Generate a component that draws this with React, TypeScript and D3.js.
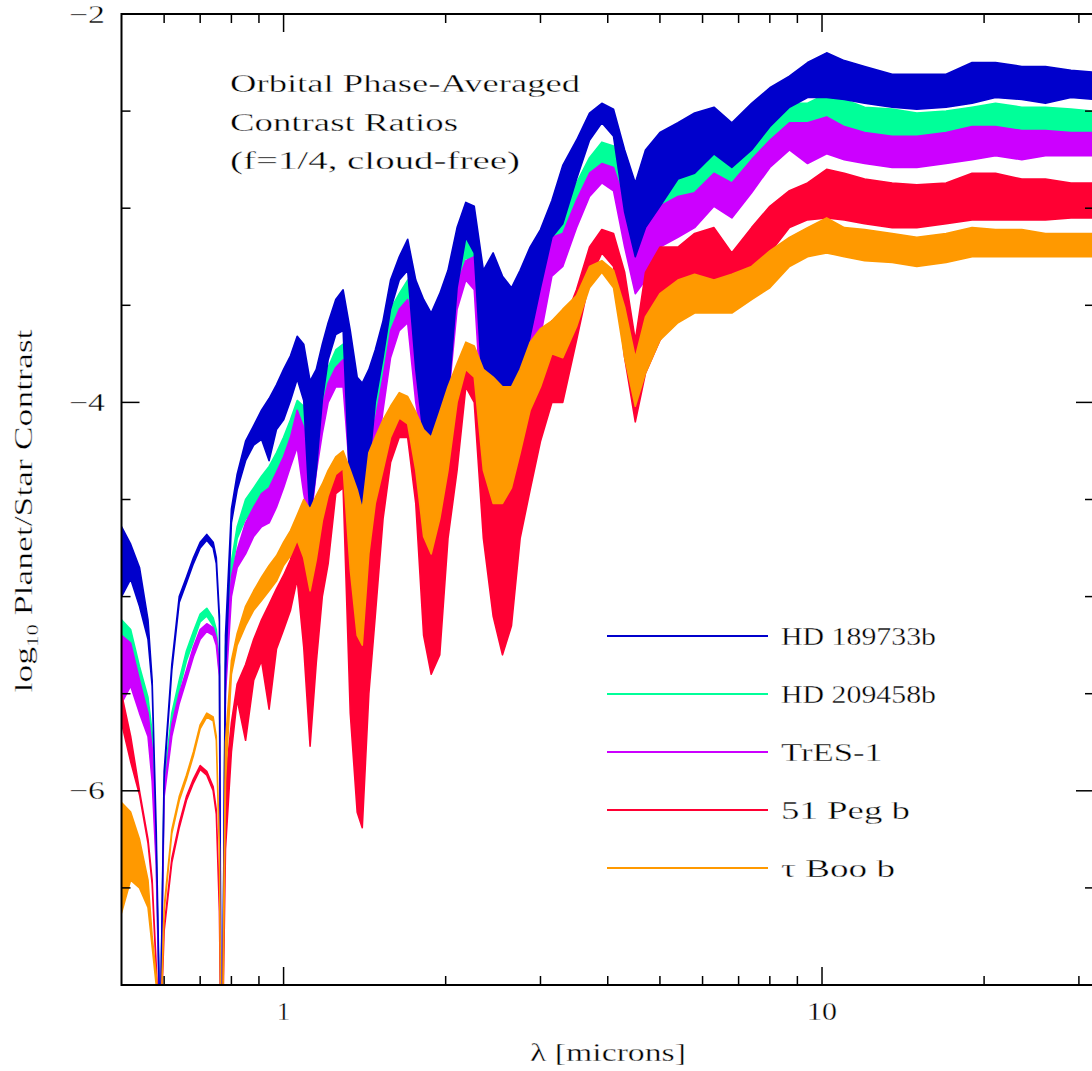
import * as d3 from 'd3';

// wavelength grid (microns) shared by all spectra
const wavelengths = [
  0.50, 0.52, 0.54, 0.56, 0.57, 0.58, 0.59, 0.60, 0.62, 0.64,
  0.66, 0.68, 0.70, 0.72, 0.74, 0.75, 0.76, 0.765, 0.77, 0.78,
  0.80, 0.82, 0.85, 0.88, 0.91, 0.94, 0.97, 1.00, 1.03, 1.06,
  1.09, 1.12, 1.15, 1.18, 1.21, 1.25, 1.29, 1.33, 1.37, 1.40,
  1.44, 1.48, 1.53, 1.58, 1.64, 1.70, 1.76, 1.82, 1.88, 1.95,
  2.02, 2.10, 2.18, 2.26, 2.35, 2.45, 2.55, 2.65, 2.75, 2.87,
  3.0, 3.15, 3.3, 3.5, 3.7, 3.9, 4.1, 4.3, 4.5, 4.7,
  5.0, 5.4, 5.8, 6.3, 6.8, 7.4, 8.0, 8.7, 9.4, 10.2,
  11, 12, 13.5, 15, 17, 19, 21, 23.5, 26, 29, 32,
];

// upper / lower envelope of each noisy spectrum, log10 contrast
const hd189733Hi = [
  -4.64, -4.73, -4.85, -5.12, -5.43, -6.2, -7.3, -5.9, -5.35, -5.0,
  -4.9, -4.8, -4.72, -4.68, -4.72, -4.8, -5.1, -7.3, -7.3, -5.2,
  -4.55, -4.37, -4.2, -4.12, -4.04, -3.98, -3.91, -3.83, -3.76, -3.66,
  -3.7, -3.89, -3.83, -3.7, -3.59, -3.47, -3.42, -3.63, -3.87, -3.9,
  -3.83, -3.73, -3.58, -3.37, -3.25, -3.16, -3.37, -3.47, -3.54, -3.44,
  -3.32, -3.1, -2.97, -2.99, -3.32, -3.23, -3.35, -3.41, -3.32, -3.2,
  -3.11, -2.96, -2.78, -2.65, -2.51, -2.46, -2.49, -2.7, -2.87, -2.7,
  -2.61, -2.56, -2.51, -2.48, -2.56, -2.46, -2.38, -2.32, -2.25, -2.2,
  -2.24, -2.27, -2.31, -2.31, -2.31, -2.25, -2.25, -2.27, -2.27, -2.29, -2.3,
];
const hd189733Lo = [
  -5.0, -4.91, -5.05, -5.22, -5.46, -6.23, -7.3, -5.93, -5.38, -5.03,
  -4.93, -4.83, -4.75, -4.71, -4.75, -4.83, -5.13, -7.3, -7.3, -5.4,
  -4.62, -4.45, -4.3, -4.22, -4.19, -4.3, -4.14, -4.09, -3.99, -3.88,
  -3.99, -4.6, -4.35, -3.99, -3.78, -3.65, -3.63, -4.5, -4.6, -4.52,
  -4.35, -4.0, -3.77, -3.52, -3.37, -3.32, -3.83, -4.18, -4.35, -4.18,
  -4.0, -3.41, -3.15, -3.23, -4.0, -4.09, -4.18, -4.09, -3.92, -3.66,
  -3.41, -3.15, -3.08, -2.85, -2.65, -2.56, -2.63, -3.02, -3.25, -3.1,
  -2.99, -2.85, -2.82, -2.72, -2.79, -2.7, -2.58, -2.48, -2.43, -2.43,
  -2.44, -2.46, -2.48, -2.49, -2.48, -2.46, -2.43, -2.44, -2.46, -2.43, -2.44,
];

const hd209458Hi = [
  -5.12, -5.17, -5.36, -5.52, -5.7, -6.3, -7.3, -5.95, -5.6, -5.43,
  -5.28, -5.18, -5.09, -5.06, -5.11, -5.17, -5.35, -7.3, -7.3, -5.26,
  -4.82, -4.64, -4.5, -4.44, -4.38, -4.33, -4.26, -4.18, -4.09, -3.99,
  -4.02, -4.16, -4.02, -3.95, -3.82, -3.73, -3.7, -3.83, -4.1, -4.15,
  -4.05, -3.98, -3.77, -3.52, -3.44, -3.37, -3.55, -3.7, -3.8, -3.65,
  -3.56, -3.28, -3.15, -3.18, -3.5, -3.5, -3.55, -3.55, -3.5, -3.35,
  -3.2, -3.05, -3.02, -2.87, -2.74, -2.66, -2.68, -2.86, -3.1, -2.92,
  -2.89, -2.84, -2.8, -2.7, -2.79, -2.65, -2.55, -2.46, -2.46, -2.41,
  -2.44, -2.48, -2.49, -2.51, -2.5, -2.48, -2.46, -2.48, -2.48, -2.49, -2.5,
];
const hd209458Lo = [
  -5.35, -5.29, -5.46, -5.64, -5.86, -6.33, -7.3, -5.98, -5.65, -5.48,
  -5.33, -5.23, -5.13, -5.1, -5.15, -5.21, -5.4, -7.3, -7.3, -5.4,
  -4.9, -4.7, -4.6, -4.57, -4.54, -4.5, -4.44, -4.33, -4.25, -4.13,
  -4.23, -4.45, -4.23, -4.08, -3.92, -3.83, -3.8, -4.3, -4.4, -4.4,
  -4.3, -4.15, -3.9, -3.65, -3.54, -3.49, -3.9, -4.15, -4.2, -4.15,
  -3.83, -3.39, -3.25, -3.32, -3.95, -4.0, -4.05, -4.0, -3.9, -3.7,
  -3.5, -3.15, -3.13, -2.99, -2.84, -2.77, -2.8, -3.1, -3.34, -3.2,
  -3.05, -2.96, -2.92, -2.82, -2.92, -2.79, -2.66, -2.58, -2.61, -2.6,
  -2.61, -2.65, -2.66, -2.66, -2.65, -2.63, -2.61, -2.63, -2.61, -2.61, -2.62,
];

const tres1Hi = [
  -5.2, -5.24, -5.43, -5.6, -5.78, -6.35, -7.3, -6.0, -5.66, -5.5,
  -5.38, -5.26, -5.17, -5.14, -5.16, -5.21, -5.36, -7.3, -7.3, -5.35,
  -4.9, -4.76, -4.62, -4.54, -4.47, -4.44, -4.36, -4.28, -4.18, -4.04,
  -4.13, -4.3, -4.13, -4.02, -3.9, -3.82, -3.78, -3.85, -4.2, -4.2,
  -4.1, -4.09, -3.87, -3.63, -3.52, -3.47, -3.66, -3.75, -3.85, -3.8,
  -3.63, -3.39, -3.27, -3.25, -3.5, -3.55, -3.6, -3.6, -3.6, -3.5,
  -3.32, -3.15, -3.13, -2.96, -2.82, -2.77, -2.79, -2.96, -3.2, -3.06,
  -2.99, -2.94, -2.92, -2.82, -2.87, -2.75, -2.65, -2.56, -2.56, -2.53,
  -2.58, -2.61, -2.63, -2.63, -2.61, -2.58, -2.58, -2.6, -2.6, -2.61, -2.61,
];
const tres1Lo = [
  -5.55, -5.46, -5.6, -5.72, -5.95, -6.38, -7.3, -6.03, -5.72, -5.55,
  -5.43, -5.31, -5.22, -5.18, -5.2, -5.25, -5.41, -7.3, -7.3, -5.5,
  -5.0, -4.85, -4.78, -4.69, -4.64, -4.62, -4.54, -4.44, -4.33, -4.23,
  -4.47, -4.64, -4.36, -4.16, -4.0, -3.92, -3.92, -4.4, -4.45, -4.45,
  -4.4, -4.35, -4.04, -3.77, -3.63, -3.59, -4.0, -4.25, -4.3, -4.25,
  -4.0, -3.52, -3.37, -3.42, -4.2, -4.2, -4.25, -4.2, -4.0, -3.83,
  -3.66, -3.35, -3.3, -3.1, -2.94, -2.87, -2.91, -3.2, -3.44, -3.37,
  -3.2, -3.15, -3.1, -2.99, -3.05, -2.92, -2.79, -2.7, -2.77, -2.72,
  -2.75, -2.77, -2.79, -2.79, -2.77, -2.75, -2.73, -2.75, -2.73, -2.73, -2.73,
];

const peg51Hi = [
  -5.5, -5.72, -6.0, -6.25, -6.46, -6.9, -7.3, -6.7, -6.35, -6.17,
  -6.03, -5.94, -5.87, -5.9, -5.98, -6.1, -6.6, -7.3, -7.3, -5.95,
  -5.65, -5.45, -5.35, -5.22, -5.12, -5.04, -4.96, -4.89, -4.81, -4.68,
  -4.66, -4.75, -4.66, -4.5, -4.4, -4.33, -4.26, -4.5, -4.6, -4.7,
  -4.55, -4.45, -4.26, -4.11, -4.0, -4.0, -4.21, -4.4, -4.5, -4.45,
  -4.15, -3.87, -3.72, -3.73, -4.18, -4.18, -4.3, -4.2, -4.09, -3.92,
  -3.75, -3.58, -3.6, -3.42, -3.2, -3.11, -3.13, -3.33, -3.68, -3.33,
  -3.2, -3.2, -3.13, -3.1, -3.23, -3.1, -2.99, -2.91, -2.87, -2.8,
  -2.82, -2.85, -2.87, -2.88, -2.87, -2.82, -2.82, -2.85, -2.85, -2.87, -2.87,
];
const peg51Lo = [
  -5.65, -5.85, -6.02, -6.27, -6.48, -6.92, -7.3, -6.72, -6.37, -6.19,
  -6.05, -5.96, -5.89, -5.92, -6.0, -6.12, -6.62, -7.3, -7.3, -6.3,
  -5.8, -5.53, -5.74, -5.43, -5.33, -5.58, -5.27, -5.17, -5.07, -4.91,
  -5.26, -5.77, -5.34, -5.0, -4.83, -4.47, -4.44, -5.6, -6.11, -6.19,
  -5.5, -5.1, -4.6, -4.31, -4.18, -4.18, -4.52, -5.2, -5.4, -5.3,
  -4.7, -4.35, -3.92, -4.0, -4.7, -5.1, -5.3, -5.15, -4.7, -4.45,
  -4.2, -4.0, -4.0, -3.68, -3.37, -3.23, -3.3, -3.77, -4.1, -3.85,
  -3.68, -3.51, -3.44, -3.37, -3.42, -3.33, -3.23, -3.1, -3.06, -3.05,
  -3.06, -3.08, -3.1, -3.1, -3.08, -3.06, -3.06, -3.06, -3.06, -3.05, -3.05,
];

const tauBooHi = [
  -6.06, -6.11, -6.25, -6.46, -6.75, -6.95, -7.3, -6.6, -6.2, -6.03,
  -5.92, -5.8, -5.66, -5.6, -5.62, -5.72, -6.3, -7.3, -7.3, -5.75,
  -5.33, -5.19, -5.05, -4.97, -4.9, -4.84, -4.79, -4.72, -4.66, -4.58,
  -4.5, -4.55, -4.48, -4.42, -4.35, -4.28, -4.25, -4.35, -4.45, -4.55,
  -4.26, -4.18, -4.09, -4.02, -3.95, -3.97, -4.05, -4.14, -4.18, -4.05,
  -3.92, -3.8, -3.69, -3.71, -3.83, -3.87, -3.92, -3.92, -3.83, -3.69,
  -3.62, -3.58, -3.52, -3.45, -3.3, -3.27, -3.32, -3.51, -3.77, -3.56,
  -3.44, -3.37, -3.34, -3.37, -3.34, -3.3, -3.22, -3.15, -3.1, -3.05,
  -3.1, -3.11, -3.13, -3.15, -3.13, -3.1, -3.11, -3.11, -3.13, -3.13, -3.13,
];
const tauBooLo = [
  -6.63, -6.46, -6.5, -6.6, -6.8, -7.0, -7.3, -6.62, -6.22, -6.05,
  -5.94, -5.82, -5.68, -5.62, -5.64, -5.74, -6.32, -7.3, -7.3, -5.95,
  -5.4, -5.25, -5.15, -5.07, -5.02, -4.97, -4.92, -4.84, -4.79, -4.71,
  -4.8, -4.97, -4.81, -4.61, -4.48, -4.37, -4.34, -4.86, -5.2, -5.25,
  -4.78, -4.52, -4.35, -4.18, -4.08, -4.11, -4.35, -4.69, -4.78, -4.6,
  -4.35, -4.0, -3.83, -3.87, -4.35, -4.52, -4.52, -4.44, -4.26, -4.04,
  -3.92, -3.75, -3.77, -3.61, -3.41, -3.33, -3.41, -3.77, -4.02, -3.85,
  -3.68, -3.59, -3.54, -3.54, -3.54, -3.47, -3.41, -3.3, -3.25, -3.23,
  -3.25, -3.27, -3.28, -3.3, -3.28, -3.25, -3.25, -3.25, -3.25, -3.25, -3.25,
];

const planetNames = ['HD 189733b', 'HD 209458b', 'TrES-1', '51 Peg b', '\u03c4 Boo b'];
const planetColors = ['#0000cc', '#00ff99', '#cc00ff', '#ff0033', '#ff9900'];
const highs = [hd189733Hi, hd209458Hi, tres1Hi, peg51Hi, tauBooHi];
const lows = [hd189733Lo, hd209458Lo, tres1Lo, peg51Lo, tauBooLo];
// painting order seen in the figure: green, violet, blue, red, orange on top
const drawOrder = [1, 2, 0, 3, 4];

const xMajorTicks = [1, 10];
const xMinorTicks = [0.6, 0.7, 0.8, 0.9, 2, 3, 4, 5, 6, 7, 8, 9, 20, 30];
const yMajorTicks = [-6, -4, -2];
const yMinorTicks = [-6.5, -5.5, -5, -4.5, -3.5, -3, -2.5];
const noteLines = ['Orbital Phase-Averaged', 'Contrast Ratios', '(f=1/4, cloud-free)'];

const FONT = "'Liberation Serif', 'DejaVu Serif', serif";
// thin the stretched glyphs a little so they read like the plotter font
const thin = { stroke: '#fff', strokeWidth: 0.35 };

export default function App() {
  const W = 1092;
  const H = 1071;
  const left = 121.5, right = 1094, top = 14, bottom = 985;

  const x = d3.scaleLog().domain([0.5, 32]).range([left, right]);
  const y = d3.scaleLinear().domain([-7, -2]).range([bottom, top]);

  const series = planetNames.map((name, i) => ({
    name,
    color: planetColors[i],
    pts: wavelengths.map((w, j) => ({ w, hi: highs[i][j], lo: lows[i][j] })),
  }));

  const area = d3.area<{ w: number; hi: number; lo: number }>()
    .x(d => x(d.w))
    .y0(d => y(d.lo))
    .y1(d => y(d.hi));

  const major = 18, minor = 9;
  const noteWidths = [350, 228, 290];
  const legendWidths = [155, 155, 101, 129, 114];

  return (
    <svg width={W} height={H} style={{ position: 'absolute', left: 0, top: 0, background: '#fff' }}
      fontFamily={FONT}>
      <defs>
        <clipPath id="plot-clip">
          <rect x={left} y={top} width={right - left} height={bottom - top} />
        </clipPath>
      </defs>
      <rect x={0} y={0} width={W} height={H} fill="#fff" />

      <g clipPath="url(#plot-clip)">
        {drawOrder.map(i => series[i]).map(s => (
          <path key={s.name} d={area(s.pts) || ''} fill={s.color} stroke={s.color}
            strokeWidth={1.6} strokeLinejoin="round" />
        ))}
      </g>

      {/* frame */}
      <rect x={left} y={top} width={right - left} height={bottom - top} fill="none"
        stroke="#000" strokeWidth={2} />

      {/* x ticks, bottom and top */}
      {xMajorTicks.concat(xMinorTicks).map(t => {
        const len = xMajorTicks.includes(t) ? major : minor;
        return (
          <g key={'xt' + t} stroke="#000" strokeWidth={1.5}>
            <line x1={x(t)} x2={x(t)} y1={bottom} y2={bottom - len} />
            <line x1={x(t)} x2={x(t)} y1={top} y2={top + len} />
          </g>
        );
      })}
      {xMajorTicks.map(t => (
        <text key={'xl' + t} x={x(t)} y={1020} fontSize={25} textAnchor="middle" {...thin}
          textLength={t === 10 ? 30 : undefined} lengthAdjust="spacingAndGlyphs">{t}</text>
      ))}

      {/* y ticks, left and right */}
      {yMajorTicks.concat(yMinorTicks).map(t => {
        const len = yMajorTicks.includes(t) ? major : minor;
        return (
          <g key={'yt' + t} stroke="#000" strokeWidth={1.5}>
            <line x1={left} x2={left + len} y1={y(t)} y2={y(t)} />
            <line x1={right} x2={right - len} y1={y(t)} y2={y(t)} />
          </g>
        );
      })}
      {yMajorTicks.map(t => (
        <text key={'yl' + t} x={105} y={y(t) + 8.5} fontSize={25} textAnchor="end" {...thin}
          textLength={36} lengthAdjust="spacingAndGlyphs">
          {'\u2212' + Math.abs(t)}
        </text>
      ))}

      {/* axis titles */}
      <text x={608} y={1061} fontSize={25} textAnchor="middle" textLength={156} {...thin}
        lengthAdjust="spacingAndGlyphs">{'\u03bb [microns]'}</text>
      <text transform="translate(32,511) rotate(-90)" fontSize={25} textAnchor="middle" {...thin}
        textLength={363} lengthAdjust="spacingAndGlyphs">
        log<tspan fontSize={16} dy={6}>10</tspan><tspan dy={-6}> Planet/Star Contrast</tspan>
      </text>

      {/* annotation */}
      {noteLines.map((t, i) => (
        <text key={t} x={230} y={92 + i * 38.7} fontSize={25} textLength={noteWidths[i]} {...thin}
          lengthAdjust="spacingAndGlyphs">{t}</text>
      ))}

      {/* legend */}
      {series.map((s, i) => {
        const ly = 636 + i * 58;
        return (
          <g key={'lg' + s.name}>
            <line x1={607} x2={768} y1={ly} y2={ly} stroke={s.color} strokeWidth={2} />
            <text x={781} y={ly + 9} fontSize={25} textLength={legendWidths[i]} {...thin}
              lengthAdjust="spacingAndGlyphs">{s.name}</text>
          </g>
        );
      })}
    </svg>
  );
}
